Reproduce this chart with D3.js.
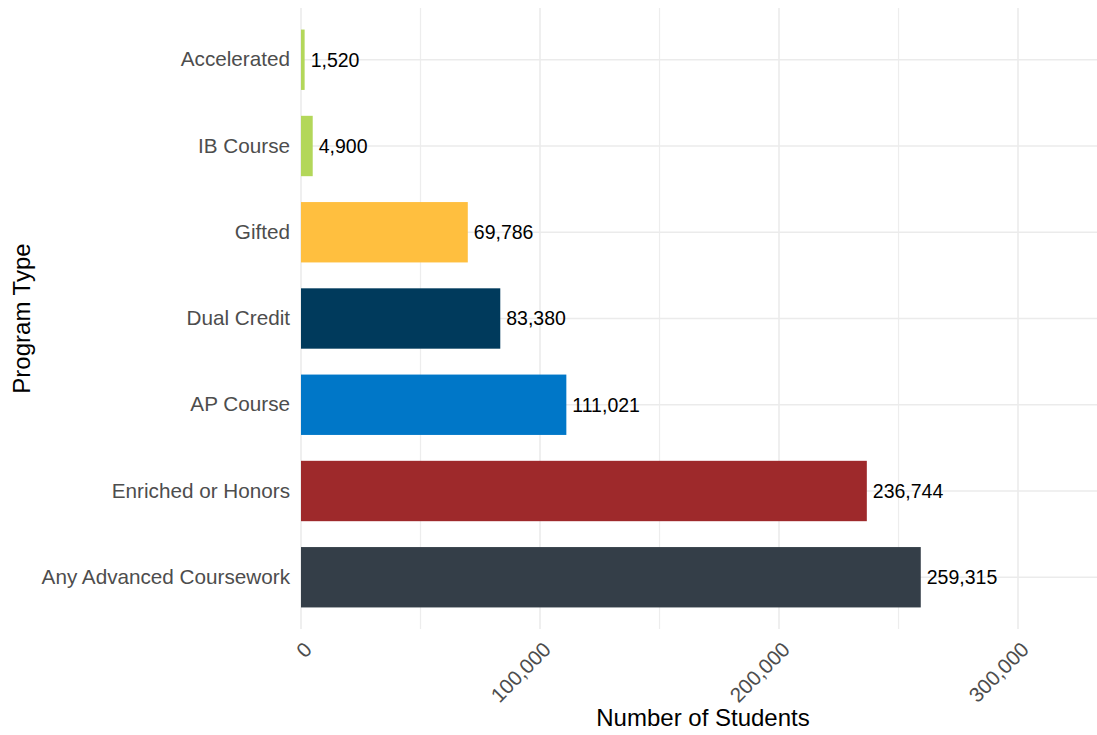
<!DOCTYPE html>
<html>
<head>
<meta charset="utf-8">
<script src="https://cdn.jsdelivr.net/npm/d3@7"></script>
<style>
html,body{margin:0;padding:0;background:#fff;}
svg{display:block;font-family:"Liberation Sans",Arial,sans-serif;}
</style>
</head>
<body>
<svg id="chart" width="1097" height="735"></svg>
<script>
const categories = ["Accelerated","IB Course","Gifted","Dual Credit","AP Course","Enriched or Honors","Any Advanced Coursework"];
const values = [1520, 4900, 69786, 83380, 111021, 236744, 259315];
const colors = ["#b3d75a","#b3d75a","#ffbf3f","#003a5c","#0077c8","#9e292b","#343e48"];
const xTicks = [0, 100000, 200000, 300000];
const xMinorTicks = [50000, 150000, 250000];

(function(){
const svg = d3.select("#chart");
const pL = 301, pR = 1097, pT = 8, pB = 629;

const x = d3.scaleLinear().domain([0, 333050]).range([pL, pR]);
const y = d3.scaleBand().domain(categories).range([pT, pB]).paddingInner(0.3).paddingOuter(0.25);

const fmt = d3.format(",");
const grid = svg.append("g");
grid.selectAll("line.minor").data(xMinorTicks).join("line")
  .attr("x1", d => x(d)).attr("x2", d => x(d)).attr("y1", pT).attr("y2", pB)
  .attr("stroke", "#ededed").attr("stroke-width", 1.2);
grid.selectAll("line.major").data(xTicks).join("line")
  .attr("x1", d => x(d)).attr("x2", d => x(d)).attr("y1", pT).attr("y2", pB)
  .attr("stroke", "#ebebeb").attr("stroke-width", 1.6);
grid.selectAll("line.h").data(categories).join("line")
  .attr("x1", pL).attr("x2", pR)
  .attr("y1", d => y(d) + y.bandwidth()/2).attr("y2", d => y(d) + y.bandwidth()/2)
  .attr("stroke", "#ebebeb").attr("stroke-width", 1.6);

svg.append("g").selectAll("rect").data(categories).join("rect")
  .attr("x", x(0))
  .attr("y", d => y(d))
  .attr("width", (d,i) => x(values[i]) - x(0))
  .attr("height", y.bandwidth())
  .attr("fill", (d,i) => colors[i]);

svg.append("g").selectAll("text").data(categories).join("text")
  .attr("x", (d,i) => x(values[i]) + 6)
  .attr("y", d => y(d) + y.bandwidth()/2)
  .attr("dy", "0.35em")
  .attr("font-size", 19.5)
  .attr("fill", "#000")
  .text((d,i) => fmt(values[i]));

const yAxis = d3.axisLeft(y).tickSize(0).tickPadding(11);
const ga = svg.append("g").attr("transform", `translate(${pL},0)`).call(yAxis);
ga.select(".domain").remove();
ga.selectAll("text").attr("font-size", 20.7).attr("fill", "#4d4d4d").attr("font-family", "Liberation Sans, Arial, sans-serif");

const xAxis = d3.axisBottom(x).tickValues(xTicks).tickFormat(fmt).tickSize(0).tickPadding(0);
const gx = svg.append("g").attr("transform", `translate(0,${pB})`).call(xAxis);
gx.select(".domain").remove();
gx.selectAll("text")
  .attr("font-size", 20.7).attr("fill", "#4d4d4d").attr("font-family", "Liberation Sans, Arial, sans-serif")
  .attr("text-anchor", "end")
  .attr("dy", null).attr("y", 0)
  .attr("transform", "translate(1,11) rotate(-45)")
  .attr("dominant-baseline", "hanging");

svg.append("text").attr("x", (pL + pR)/2 + 4).attr("y", 726)
  .attr("text-anchor", "middle").attr("font-size", 24).attr("fill", "#000")
  .text("Number of Students");
svg.append("text").attr("transform", `translate(30,${(pT+pB)/2}) rotate(-90)`)
  .attr("text-anchor", "middle").attr("font-size", 24).attr("fill", "#000")
  .text("Program Type");
})();
</script>
</body>
</html>
